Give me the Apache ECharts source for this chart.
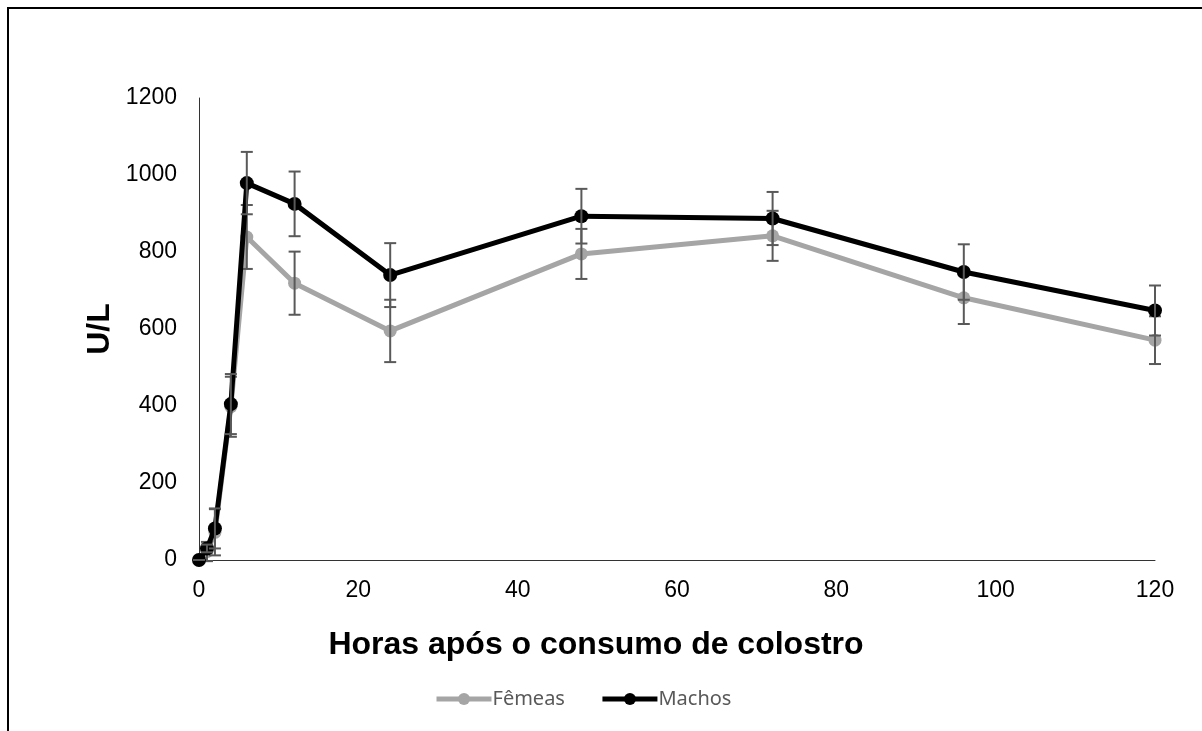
<!DOCTYPE html>
<html>
<head>
<meta charset="utf-8">
<script src="https://cdn.jsdelivr.net/npm/echarts@6/dist/echarts.min.js"></script>
<style>
  html, body { margin: 0; padding: 0; background: #fff; }
  #chart { width: 1202px; height: 731px; }
</style>
</head>
<body>
<div id="chart"></div>
<script>
// Horas após o consumo de colostro
const hours = [0, 1, 2, 4, 6, 12, 24, 48, 72, 96, 120];
// Atividade sérica (U/L) – médias e erro
const femeas    = [0, 22, 72, 398, 839, 719, 595, 795, 842, 681, 571];
const femeasErr = [0, 25, 60, 78, 83, 82, 81, 65, 65, 68, 62];
const machos    = [0, 30, 82, 405, 979, 925, 740, 893, 887, 748, 648];
const machosErr = [0, 10, 52, 78, 81, 84, 83, 71, 69, 72, 65];
const seriesNames = ['Fêmeas', 'Machos'];
const xTitle = 'Horas após o consumo de colostro';
const yTitle = 'U/L';

const pairs = (ys) => hours.map((h, i) => [h, ys[i]]);
const errRows = (ys, es) => hours.map((h, i) => [h, ys[i] - es[i], ys[i] + es[i]]);

function renderErr(params, api) {
  const x = api.value(0);
  const lo = api.coord([x, api.value(1)]);
  const hi = api.coord([x, api.value(2)]);
  const half = 6;
  const style = { stroke: '#595959', lineWidth: 2 };
  return {
    type: 'group',
    children: [
      { type: 'line', shape: { x1: hi[0], y1: hi[1], x2: lo[0], y2: lo[1] }, style },
      { type: 'line', shape: { x1: hi[0] - half, y1: hi[1], x2: hi[0] + half, y2: hi[1] }, style },
      { type: 'line', shape: { x1: lo[0] - half, y1: lo[1], x2: lo[0] + half, y2: lo[1] }, style }
    ]
  };
}

const chart = echarts.init(document.getElementById('chart'), null, { renderer: 'canvas' });
const font = '"Liberation Sans", Arial, sans-serif';
const titleStyle = { fontFamily: font, fontWeight: 'bold', fontSize: 32, fill: '#000',
                     align: 'center', verticalAlign: 'middle' };

chart.setOption({
  animation: false,
  backgroundColor: '#fff',
  graphic: [
    {
      type: 'rect',
      shape: { x: 8, y: 8, width: 1200, height: 730 },
      style: { fill: 'none', stroke: '#000', lineWidth: 2 },
      silent: true
    },
    {
      type: 'text', x: 596, y: 645, silent: true,
      style: Object.assign({ text: xTitle }, titleStyle)
    },
    {
      type: 'text', x: 100, y: 329, rotation: Math.PI / 2, silent: true,
      style: Object.assign({ text: yTitle }, titleStyle)
    }
  ],
  grid: { left: 199, right: 47, top: 98, bottom: 171 },
  legend: {
    data: seriesNames.map((n, i) => ({
      name: n,
      itemStyle: { color: i === 0 ? '#A5A5A5' : '#000' },
      lineStyle: { color: i === 0 ? '#A5A5A5' : '#000', width: 5 }
    })),
    top: 684,
    left: 429,
    itemWidth: 55,
    itemHeight: 15,
    itemGap: 35,
    textStyle: { color: '#595959', fontSize: 20, fontFamily: '"Noto Sans", sans-serif', padding: [0, 0, 0, -4] }
  },
  xAxis: {
    type: 'value',
    min: 0, max: 120, interval: 20,
    axisLine: { show: true, lineStyle: { color: '#333', width: 1 } },
    axisTick: { show: false },
    axisLabel: { fontFamily: font, fontSize: 23, color: '#000', margin: 19 },
    splitLine: { show: false }
  },
  yAxis: {
    type: 'value',
    min: 0, max: 1200, interval: 200,
    axisLine: { show: true, lineStyle: { color: '#333', width: 1 } },
    axisTick: { show: false },
    axisLabel: { fontFamily: font, fontSize: 23, color: '#000', margin: 22,
                 formatter: (v) => String(v) },
    splitLine: { show: false }
  },
  series: [
    {
      name: 'Fêmeas',
      type: 'line',
      data: pairs(femeas),
      symbol: 'circle',
      symbolSize: 13,
      clip: false,
      z: 2,
      itemStyle: { color: '#A5A5A5' },
      lineStyle: { color: '#A5A5A5', width: 5 }
    },
    {
      name: 'Fêmeas erro',
      type: 'custom',
      data: errRows(femeas, femeasErr),
      renderItem: renderErr,
      clip: false,
      z: 3
    },
    {
      name: 'Machos',
      type: 'line',
      data: pairs(machos),
      symbol: 'circle',
      symbolSize: 14,
      clip: false,
      z: 4,
      itemStyle: { color: '#000' },
      lineStyle: { color: '#000', width: 5 }
    },
    {
      name: 'Machos erro',
      type: 'custom',
      data: errRows(machos, machosErr),
      renderItem: renderErr,
      clip: false,
      z: 5
    }
  ]
});
</script>
</body>
</html>
